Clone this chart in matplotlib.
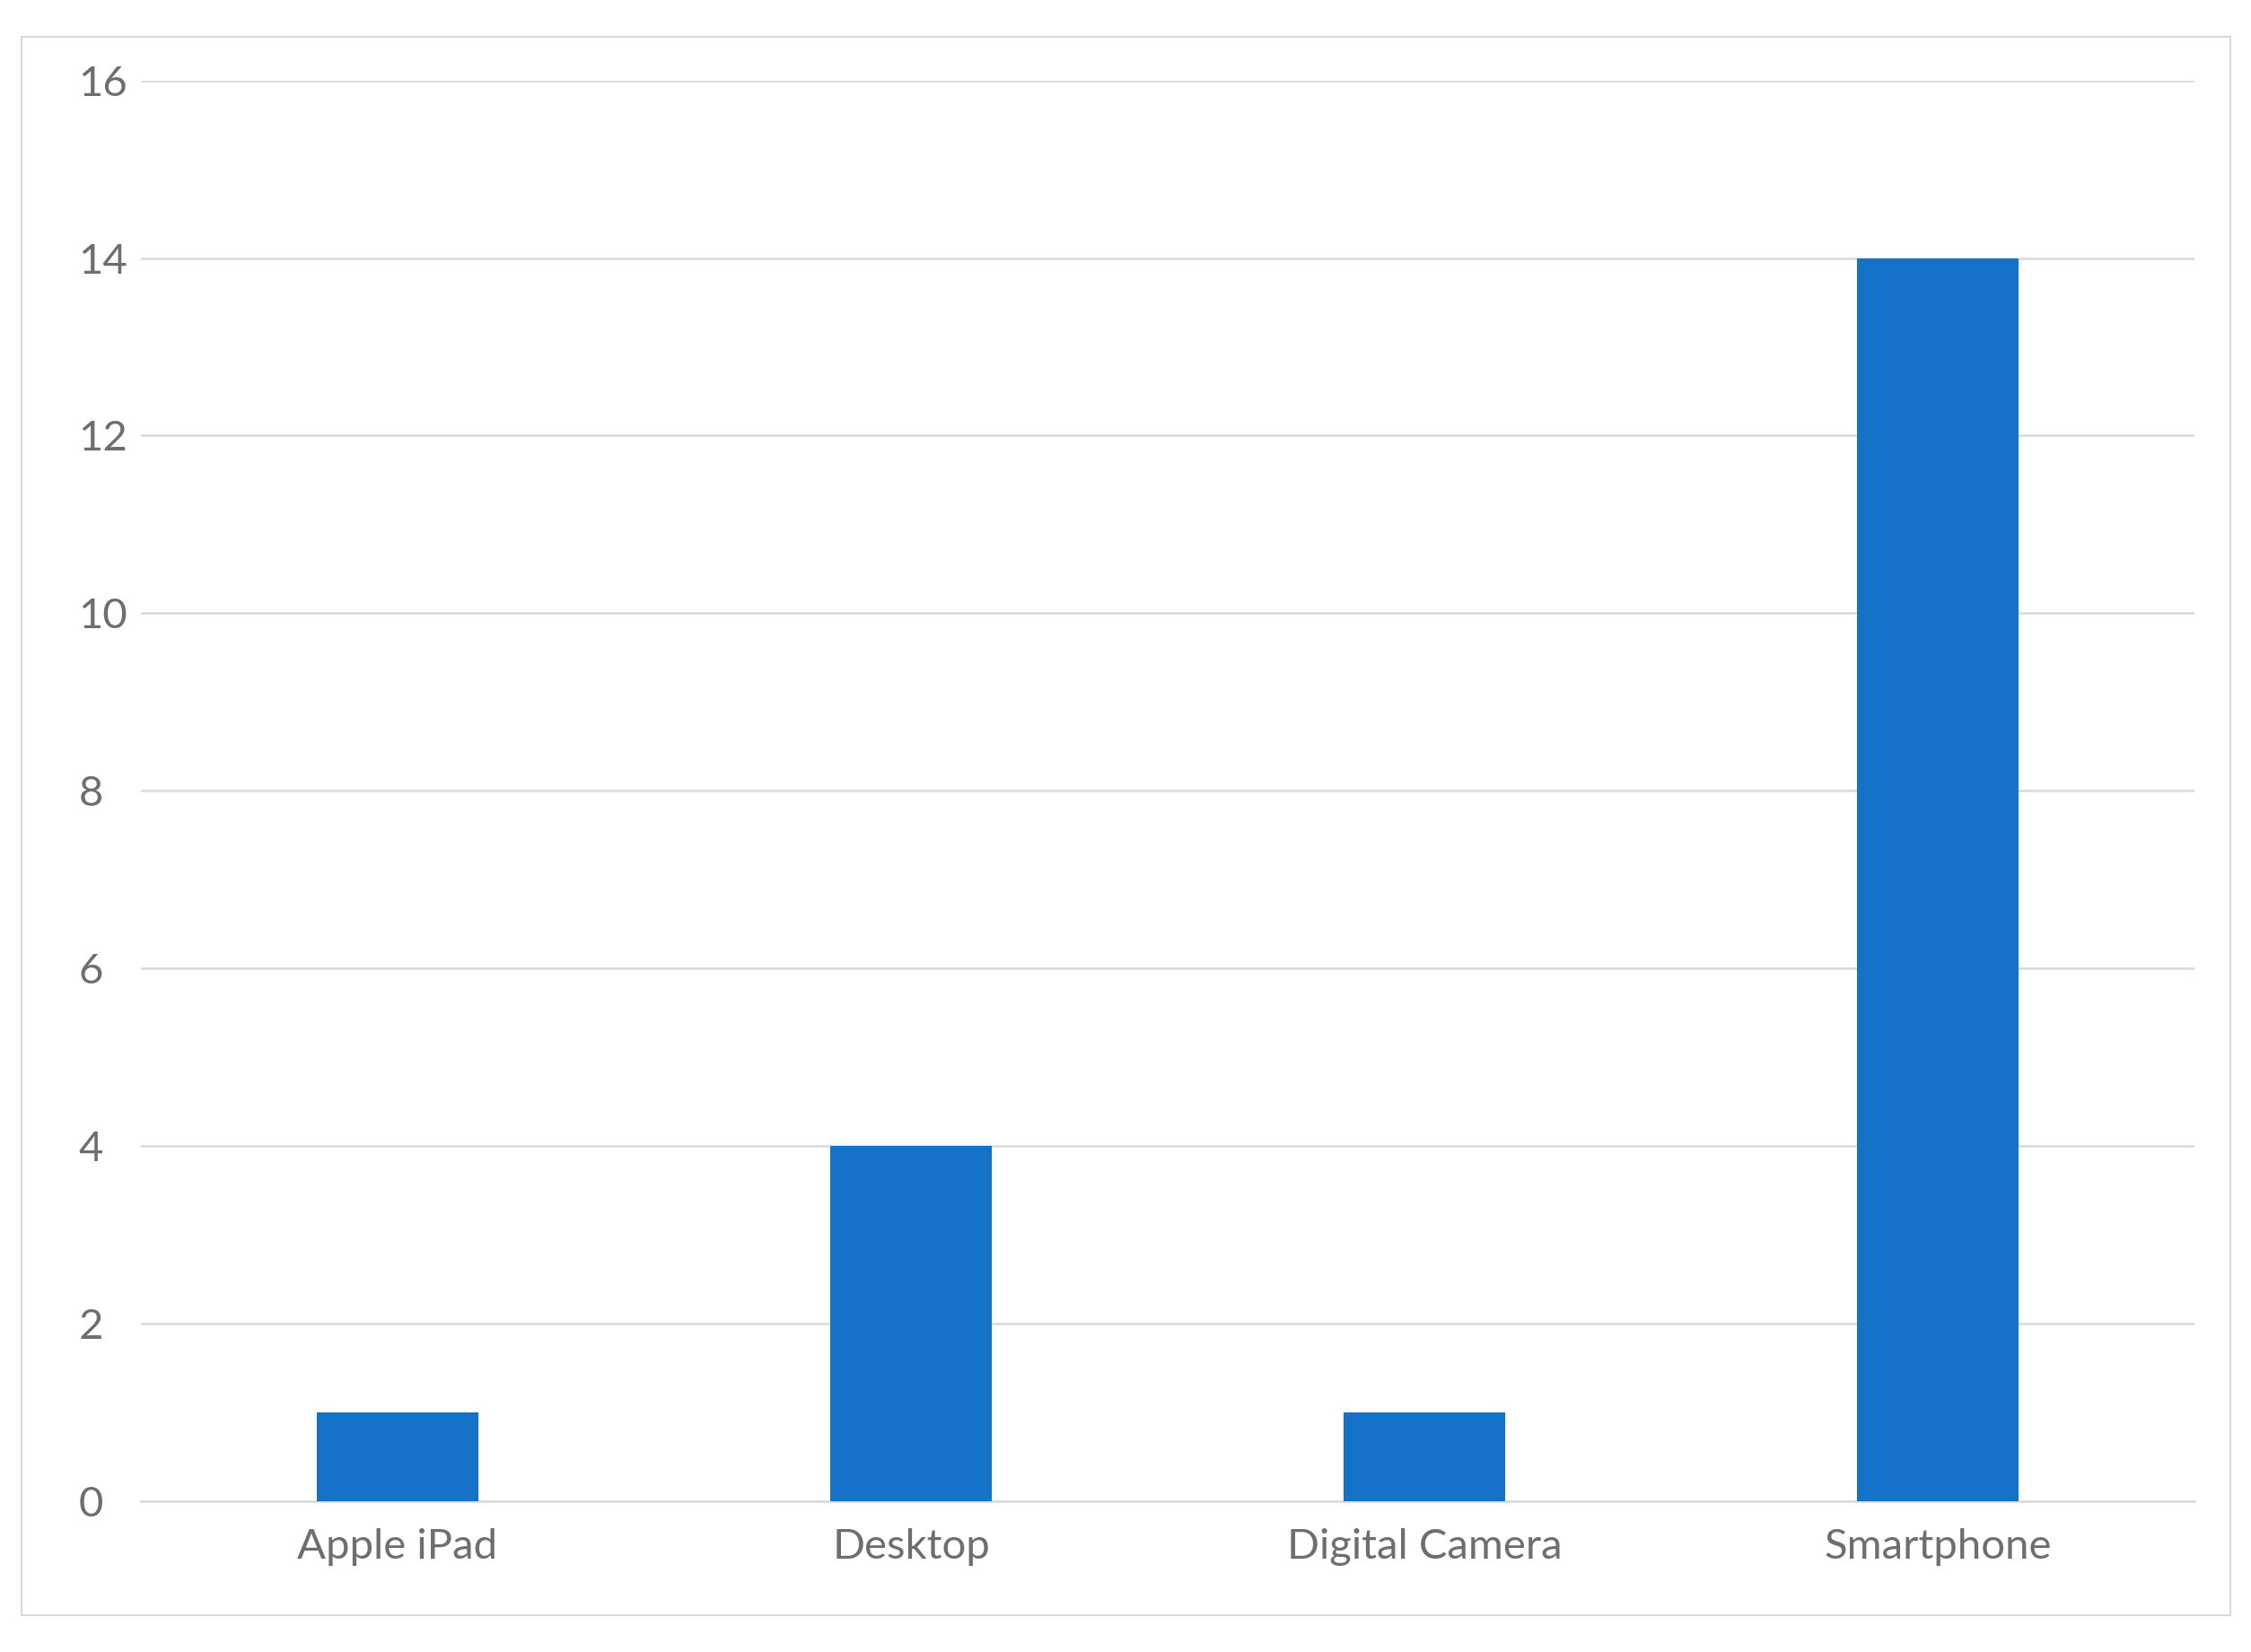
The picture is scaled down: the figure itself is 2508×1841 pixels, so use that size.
import matplotlib
matplotlib.use("Agg")
import matplotlib.pyplot as plt
from matplotlib.patches import Rectangle

categories = ["Apple iPad", "Desktop", "Digital Camera", "Smartphone"]
values = [1, 4, 1, 14]
yticks = [0, 2, 4, 6, 8, 10, 12, 14, 16]

plt.rcParams['font.family'] = ['Lato', 'DejaVu Sans']
fig = plt.figure(figsize=(25.08, 18.41), dpi=100)
fig.patches.append(Rectangle((0.0097, 0.022), 0.981, 0.956, transform=fig.transFigure,
                             fill=False, edgecolor='#D9D9D9', linewidth=1.5))
ax = fig.add_axes([0.0626, 0.0913, 0.9124, 0.8600])
ax.bar(range(len(categories)), values, width=0.315, color='#1572C9', zorder=3)
ax.set_ylim(0, 16)
ax.set_xlim(-0.5, 3.5)
ax.set_yticks(yticks)
ax.set_xticks(range(len(categories)))
ax.set_xticklabels(categories)
ax.grid(axis='y', color='#D9D9D9', linewidth=1.8, zorder=0)
for s in ['top', 'right', 'left']:
    ax.spines[s].set_visible(False)
ax.spines['bottom'].set_color('#D9D9D9')
ax.spines['bottom'].set_linewidth(1.8)
ax.tick_params(axis='both', length=0, labelsize=34, colors='#6E6E6E')
ax.tick_params(axis='x', pad=22)
ax.tick_params(axis='y', pad=50)
for t in ax.get_yticklabels():
    t.set_horizontalalignment('left')
fig.savefig("out.png", dpi=100)
